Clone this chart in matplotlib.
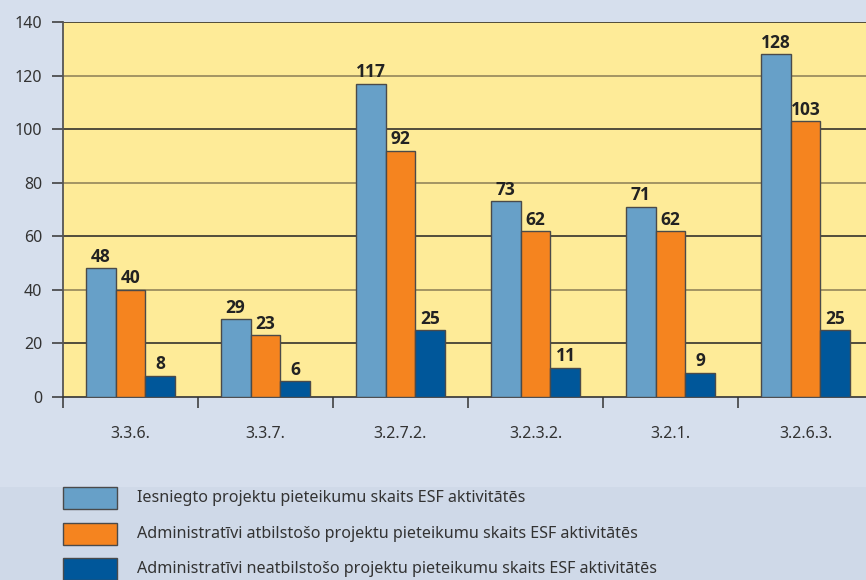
import matplotlib
matplotlib.use("Agg")
import matplotlib.pyplot as plt
from matplotlib.patches import Rectangle
import numpy as np

categories = ["3.3.6.", "3.3.7.", "3.2.7.2.", "3.2.3.2.", "3.2.1.", "3.2.6.3."]
submitted = [48, 29, 117, 73, 71, 128]
compliant = [40, 23, 92, 62, 62, 103]
noncompliant = [8, 6, 25, 11, 9, 25]
series_names = [
    "Iesniegto projektu pieteikumu skaits ESF aktivitātēs",
    "Administratīvi atbilstošo projektu pieteikumu skaits ESF aktivitātēs",
    "Administratīvi neatbilstošo projektu pieteikumu skaits ESF aktivitātēs",
]
y_ticks = [0, 20, 40, 60, 80, 100, 120, 140]

colors = ["#67a0c8", "#f5841f", "#00579a"]
plt.rcParams['font.family'] = ['Noto Sans', 'DejaVu Sans']

W, H = 866, 580
fig = plt.figure(figsize=(W / 100, H / 100), dpi=100)
fig.patch.set_facecolor("#d6dfed")

# legend panel background
fig.patches.append(Rectangle((0, 0), 1, 1 - 487 / H, transform=fig.transFigure,
                             facecolor="#cfd9e8", edgecolor="none", zorder=0))

left_px, top_px, bottom_px, cat_w = 63, 22, 397, 135
ax = fig.add_axes([left_px / W, 1 - bottom_px / H, 6 * cat_w / W, (bottom_px - top_px) / H])
ax.set_facecolor("#feeb98")
ax.set_xlim(0, 6)
ax.set_ylim(0, 140)

for yv in y_ticks[1:]:
    c = "#222222" if (yv // 20) % 2 == 1 else "#8a7d55"
    ax.axhline(yv, color=c, lw=1.1, zorder=1)

x = np.arange(len(categories)) + 0.5
bw = 0.222
for i, (vals, col) in enumerate(zip([submitted, compliant, noncompliant], colors)):
    xs = x + (i - 1) * bw
    ax.bar(xs, vals, width=bw, color=col, edgecolor="#4a4a4a", linewidth=1, zorder=3)
    for xi, v in zip(xs, vals):
        ax.text(xi, v + 0.9, str(v), ha="center", va="bottom", fontsize=12.5,
                fontweight="bold", family=["Open Sans", "DejaVu Sans"],
                color="#222222", zorder=4)

for s in ["top", "right"]:
    ax.spines[s].set_visible(False)
ax.spines["left"].set_color("#555555")
ax.spines["left"].set_linewidth(1.3)
ax.spines["bottom"].set_color("#333333")
ax.spines["bottom"].set_linewidth(1.2)

ax.set_yticks(y_ticks)
ax.set_yticklabels([str(v) for v in y_ticks], fontsize=11.5, color="#333333")
ax.tick_params(axis="y", length=8, width=1.1, color="#333333", pad=7)

ax.set_xticks(np.arange(0, 7))
ax.set_xticklabels([])
ax.tick_params(axis="x", which="major", length=8, width=1.1, color="#333333", direction="out")
ax.set_xticks(x, minor=True)
ax.set_xticklabels(categories, minor=True, fontsize=11.5, color="#333333")
ax.tick_params(axis="x", which="minor", length=0, pad=21)

# legend
leg_y = [498, 534, 569]
for yc, col, name in zip(leg_y, colors, series_names):
    fig.patches.append(Rectangle((63 / W, 1 - (yc + 11) / H), 54 / W, 22 / H,
                                 transform=fig.transFigure, facecolor=col,
                                 edgecolor="#4a4a4a", linewidth=1, zorder=2))
    fig.text(137 / W, 1 - yc / H, name, ha="left", va="center", fontsize=11.6,
             color="#333333")

fig.savefig("out.png", dpi=100, facecolor=fig.get_facecolor())
